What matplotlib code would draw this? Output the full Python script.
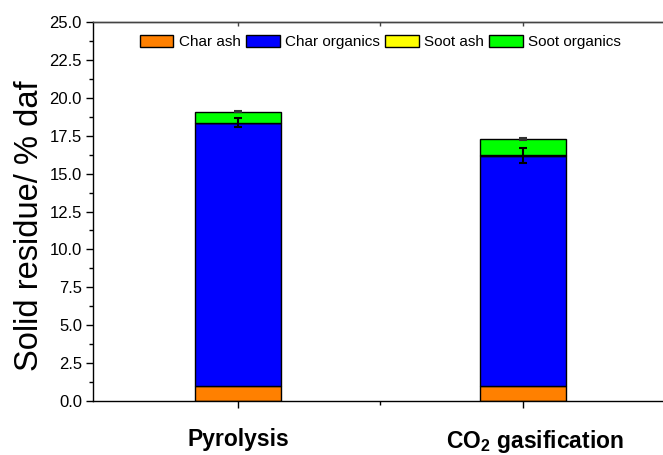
import matplotlib
matplotlib.use("Agg")
import matplotlib.pyplot as plt
import matplotlib.transforms as mtransforms
from matplotlib.ticker import MultipleLocator, FormatStrFormatter, FixedLocator
import numpy as np

plt.rcParams['font.family'] = ['Liberation Sans', 'DejaVu Sans']
plt.rcParams['mathtext.fontset'] = 'custom'
plt.rcParams['mathtext.rm'] = 'Liberation Sans:bold'
plt.rcParams['mathtext.bf'] = 'Liberation Sans:bold'

# Solid residue components (% daf)
categories = ["Pyrolysis", "CO$_2$ gasification"]
char_ash = [1.0, 1.0]
char_organics = [17.35, 15.2]
soot_ash = [0.03, 0.03]
soot_organics = [0.72, 1.05]
char_err = [0.3, 0.5]
total_err = [0.05, 0.05]

series_labels = ["Char ash", "Char organics", "Soot ash", "Soot organics"]
colors = ["#FF8000", "#0000FF", "#FFFF00", "#00FF00"]

fig = plt.figure(figsize=(6.63, 4.55), dpi=100)
ax = fig.add_axes([0.1403, 0.1193, 0.8672, 0.8317])

x = np.arange(1, len(categories) + 1)
width = 0.30
bottom = np.zeros(len(categories))
stack = [char_ash, char_organics, soot_ash, soot_organics]
char_top = None
for vals, lab, col in zip(stack, series_labels, colors):
    ax.bar(x, vals, width, bottom=bottom, color=col, edgecolor="black",
           linewidth=1.0, label=lab, zorder=2)
    bottom = bottom + np.array(vals)
    if lab == "Char organics":
        char_top = bottom.copy()

ax.errorbar(x, char_top, yerr=char_err, fmt="none", ecolor="black",
            elinewidth=1.5, capsize=3, capthick=1.5, zorder=3)
ax.errorbar(x, bottom, yerr=total_err, fmt="none", ecolor="#333333",
            elinewidth=1.5, capsize=3, capthick=1.5, zorder=3)

ax.set_xlim(0.49, 2.51)
ax.set_ylim(0, 25)
ax.yaxis.set_major_locator(MultipleLocator(2.5))
ax.yaxis.set_minor_locator(MultipleLocator(1.25))
ax.yaxis.set_major_formatter(FormatStrFormatter("%.1f"))
ax.set_xticks(x)
ax.set_xticklabels(categories, fontsize=16.5, fontweight="bold")
ax.xaxis.set_minor_locator(FixedLocator([1.5]))

ax.tick_params(axis="y", which="major", direction="out", length=5, width=1,
               labelsize=12, pad=3)
ax.tick_params(axis="y", which="minor", direction="out", length=3, width=1)
ax.tick_params(axis="x", which="major", direction="out", length=5, width=1,
               pad=15)
ax.tick_params(axis="x", which="minor", direction="out", length=3, width=1)

# The second category label sits slightly right of its tick
shift = mtransforms.ScaledTranslation(9 / 72, 0, fig.dpi_scale_trans)
lbl = ax.xaxis.get_major_ticks()[1].label1
lbl.set_transform(lbl.get_transform() + shift)

# Inward ticks along the top frame line
top = ax.secondary_xaxis("top")
top.set_xticks(x)
top.xaxis.set_minor_locator(FixedLocator([1.5]))
top.tick_params(axis="x", which="both", direction="in", length=3, width=1,
                labeltop=False, color="#444444")
top.spines["top"].set_color("#444444")
top.spines["top"].set_linewidth(1.0)

ax.spines["right"].set_visible(False)
for s in ["left", "bottom", "top"]:
    ax.spines[s].set_linewidth(1.0)
ax.spines["top"].set_color("#444444")

ax.set_ylabel("Solid residue/ % daf", fontsize=23.5)
ax.yaxis.set_label_coords(-0.0835, 0.462)

ax.legend(loc="upper center", bbox_to_anchor=(0.5, 0.995), ncol=4,
          frameon=False, fontsize=11, handlelength=2.2, handleheight=0.85,
          handletextpad=0.35, columnspacing=0.35, borderaxespad=0.3)

fig.savefig("out.png", dpi=100)
